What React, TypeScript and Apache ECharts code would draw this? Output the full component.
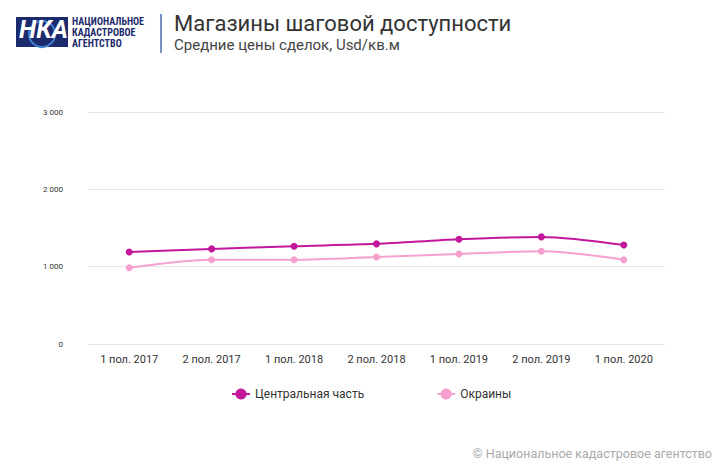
import React, { useEffect, useRef } from "react";
import * as echarts from "echarts";

const categories = ["1 пол. 2017", "2 пол. 2017", "1 пол. 2018", "2 пол. 2018", "1 пол. 2019", "2 пол. 2019", "1 пол. 2020"];
const central = [1190, 1230, 1265, 1295, 1355, 1385, 1280];
const outskirts = [985, 1090, 1090, 1125, 1165, 1200, 1090];

const fmt = (v: number) => (v >= 1000 ? `${Math.floor(v / 1000)} ${String(v % 1000).padStart(3, "0")}` : String(v));

const App = () => {
  const chartRef = useRef<HTMLDivElement>(null);

  useEffect(() => {
    if (!chartRef.current) return;
    const chart = echarts.init(chartRef.current, undefined, { renderer: "svg" });
    chart.setOption({
      animation: false,
      textStyle: { fontFamily: "Roboto" },
      graphic: [
        { type: "rect", shape: { x: 16, y: 17, width: 52, height: 30 }, style: { fill: "#1a2a6c" } },
        { type: "circle", shape: { cx: 42, cy: 34, r: 13 }, style: { fill: "none", stroke: "#3f7fd0", lineWidth: 2 } },
        { type: "text", x: 19, y: 17, style: { text: "НКА", font: "bold italic 25px Roboto", fill: "#ffffff" } },
        { type: "text", x: 72, y: 16, style: { text: "НАЦИОНАЛЬНОЕ\nКАДАСТРОВОЕ\nАГЕНТСТВО", font: "bold 10px 'Roboto Condensed', Roboto", lineHeight: 11, fill: "#1a2a6c" } },
        { type: "line", shape: { x1: 161, y1: 14, x2: 161, y2: 53 }, style: { stroke: "#4a6fb0", lineWidth: 1.5 } },
        { type: "text", x: 174, y: 12, style: { text: "Магазины шаговой доступности", font: "22px Roboto", fill: "#333" } },
        { type: "text", x: 174, y: 37, style: { text: "Средние цены сделок, Usd/кв.м", font: "15px Roboto", fill: "#444" } },
        { type: "text", right: 8, bottom: 9, style: { text: "© Национальное кадастровое агентство", font: "12.5px Roboto", fill: "#aaa" } },
      ],
      grid: { left: 88, right: 55, top: 112, bottom: 125 },
      xAxis: {
        type: "category",
        data: categories,
        axisLine: { show: false },
        axisTick: { show: false },
        axisLabel: { color: "#333", fontSize: 11, margin: 10 },
      },
      yAxis: {
        type: "value",
        min: 0,
        max: 3000,
        interval: 1000,
        axisLabel: { color: "#333", fontSize: 8, formatter: fmt, margin: 25 },
        splitLine: { lineStyle: { color: "#e6e6e6" } },
      },
      legend: {
        bottom: 64,
        left: 226,
        itemGap: 72,
        itemWidth: 18,
        textStyle: { color: "#333", fontSize: 12 },
        data: ["Центральная часть", "Окраины"],
      },
      series: [
        {
          name: "Центральная часть",
          type: "line",
          smooth: 0.3,
          data: central,
          color: "#c2179b",
          symbol: "circle",
          symbolSize: 7,
          lineStyle: { width: 2 },
        },
        {
          name: "Окраины",
          type: "line",
          smooth: 0.3,
          data: outskirts,
          color: "#f5a0cf",
          symbol: "circle",
          symbolSize: 7,
          lineStyle: { width: 2 },
        },
      ],
    });
    return () => chart.dispose();
  }, []);

  return <div ref={chartRef} style={{ width: "720px", height: "469px", margin: "-8px" }} />;
};

export default App;
